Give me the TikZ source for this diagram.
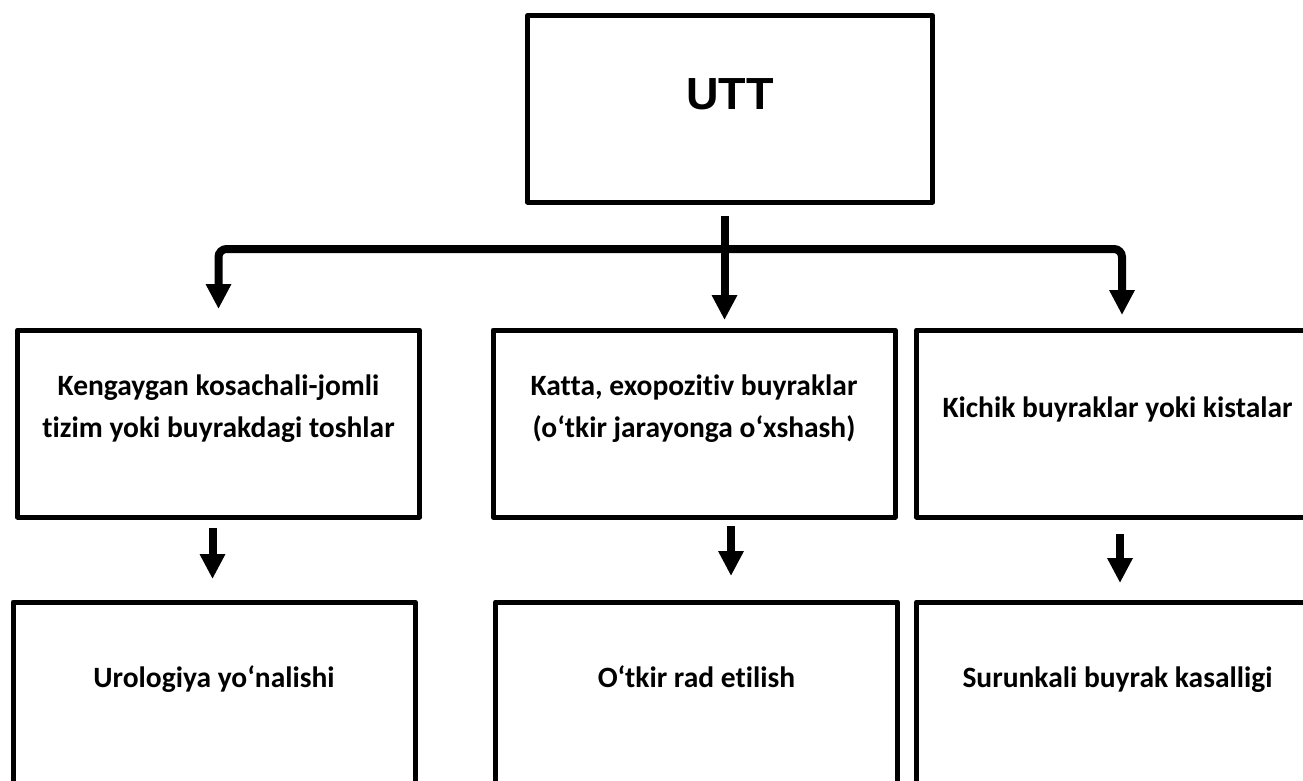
\documentclass[tikz,border=0pt]{standalone}
\usepackage{fontspec}
\setmainfont{Carlito}[Ligatures=NoCommon]
\newfontfamily\uttfont{Liberation Sans}
\usetikzlibrary{arrows.meta}

\begin{document}
\begin{tikzpicture}[x=1pt,y=-1pt,
    >={Triangle[width=24pt,length=25pt]},
    box/.style={draw,line width=5pt,line join=round,inner sep=0pt,anchor=north west,
      minimum width=402pt,align=center,font=\fontsize{29.5}{42}\selectfont\bfseries},
    link/.style={line width=8pt,->}]
  \useasboundingbox (0,0) rectangle (1303,780);
  \clip (0,0) rectangle (1303,780);

  \node[box,minimum width=405pt,text height=94pt,text depth=92.5pt] (utt) at (525,13)
    {\uttfont\fontsize{45}{54}\selectfont UTT};

  \node[box,text height=107pt,text depth=80pt] (r1) at (15,327.5)
    {Kengaygan kosachali-jomli\\tizim yoki buyrakdagi toshlar};
  \node[box,text height=107pt,text depth=80pt] (r2) at (490.5,327.5)
    {Katta, exopozitiv buyraklar\\(o‘tkir jarayonga o‘xshash)};
  \node[box,text height=87.5pt,text depth=99.5pt] (r3) at (914,327.5)
    {Kichik buyraklar yoki kistalar};

  \node[box,text height=85.5pt,text depth=200pt] (s1) at (10.5,599.5)
    {Urologiya yo‘nalishi};
  \node[box,text height=85.5pt,text depth=200pt] (s2) at (493,599.5)
    {O‘tkir rad etilish};
  \node[box,text height=85.5pt,text depth=200pt] (s3) at (914,599.5)
    {Surunkali buyrak kasalligi};

  % branching bar under UTT
  \coordinate (bar) at (724.5,249);
  \path ([xshift=4.5pt]r3.north) coordinate (r3in);
  \draw[link,<->,rounded corners=8pt,shorten <=18.5pt,shorten >=12.5pt]
    (r1.north) -- (r1.north |- bar) -- (r3in |- bar) -- (r3in);
  \draw[link,shorten <=11.5pt,shorten >=7.5pt] (utt.south -| bar) -- (r2.north -| bar);

  % second level
  \draw[link,shorten <=8.5pt,shorten >=20.5pt] ([xshift=-6pt]r1.south) -- ([xshift=-1.5pt]s1.north);
  \draw[link,shorten <=6.5pt,shorten >=23.5pt] ([xshift=37pt]r2.south) -- ([xshift=34.5pt]s2.north);
  \draw[link,shorten <=14.5pt,shorten >=16.5pt] ([xshift=2.5pt]r3.south) -- ([xshift=2.5pt]s3.north);
\end{tikzpicture}
\end{document}
